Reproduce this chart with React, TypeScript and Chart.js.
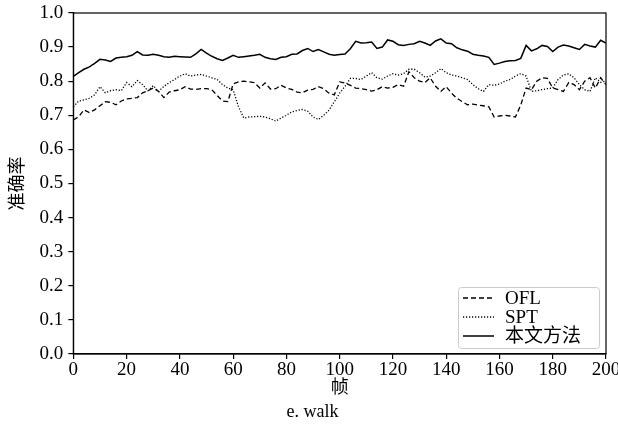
import React, { useEffect, useRef } from "react";
import { Chart, registerables } from "chart.js";

Chart.register(...registerables);

const frames = [
  0, 2, 4, 6, 8, 10, 12, 14, 16, 18, 20, 22, 24, 26, 28, 30, 32, 34, 36, 38, 40,
  42, 44, 46, 48, 50, 52, 54, 56, 58, 60, 62, 64, 66, 68, 70, 72, 74, 76, 78, 80,
  82, 84, 86, 88, 90, 92, 94, 96, 98, 100, 102, 104, 106, 108, 110, 112, 114, 116, 118, 120,
  122, 124, 126, 128, 130, 132, 134, 136, 138, 140, 142, 144, 146, 148, 150, 152, 154, 156, 158, 160,
  162, 164, 166, 168, 170, 172, 174, 176, 178, 180, 182, 184, 186, 188, 190, 192, 194, 196, 198, 200,
];

const oursValues = [
  0.814, 0.825, 0.835, 0.842, 0.852, 0.864, 0.862, 0.858, 0.868, 0.87, 0.872,
  0.876, 0.887, 0.877, 0.876, 0.879, 0.876, 0.872, 0.87, 0.873, 0.872,
  0.871, 0.87, 0.88, 0.893, 0.882, 0.873, 0.866, 0.861, 0.868, 0.876,
  0.87, 0.872, 0.874, 0.876, 0.879, 0.87, 0.866, 0.864, 0.87, 0.872,
  0.879, 0.88, 0.89, 0.896, 0.887, 0.893, 0.886, 0.879, 0.876, 0.878,
  0.88, 0.895, 0.917, 0.912, 0.913, 0.915, 0.896, 0.9, 0.921, 0.917,
  0.907, 0.905, 0.908, 0.91, 0.917, 0.912, 0.905, 0.918, 0.924, 0.912,
  0.91, 0.898, 0.892, 0.888, 0.879, 0.876, 0.874, 0.87, 0.849, 0.853,
  0.858, 0.86, 0.861, 0.867, 0.905, 0.889, 0.895, 0.905, 0.902, 0.887,
  0.9, 0.906, 0.903, 0.898, 0.893, 0.908, 0.903, 0.9, 0.92, 0.912,
];

const sptValues = [
  0.725, 0.742, 0.745, 0.75, 0.76, 0.784, 0.766, 0.772, 0.775, 0.772, 0.796,
  0.784, 0.802, 0.79, 0.772, 0.787, 0.77, 0.785, 0.796, 0.805, 0.815,
  0.822, 0.815, 0.818, 0.82, 0.815, 0.81, 0.805, 0.79, 0.78, 0.775,
  0.725, 0.692, 0.695, 0.696, 0.697, 0.695, 0.69, 0.683, 0.692, 0.7,
  0.71, 0.714, 0.717, 0.712, 0.695, 0.688, 0.7, 0.715, 0.74, 0.765,
  0.785, 0.808, 0.808, 0.805, 0.815, 0.825, 0.81, 0.806, 0.815, 0.822,
  0.818, 0.822, 0.835, 0.835, 0.825, 0.812, 0.815, 0.825, 0.837, 0.825,
  0.818, 0.815, 0.81, 0.805, 0.79, 0.778, 0.77, 0.79, 0.788, 0.792,
  0.8, 0.805, 0.815, 0.822, 0.815, 0.77, 0.772, 0.775, 0.778, 0.78,
  0.805, 0.818, 0.822, 0.81, 0.79, 0.775, 0.77, 0.81, 0.797, 0.8,
];

const oflValues = [
  0.686, 0.696, 0.716, 0.708, 0.716, 0.728, 0.74, 0.738, 0.731, 0.742, 0.748,
  0.75, 0.752, 0.766, 0.772, 0.78, 0.77, 0.752, 0.768, 0.772, 0.775,
  0.784, 0.777, 0.776, 0.778, 0.778, 0.775, 0.758, 0.742, 0.74, 0.792,
  0.798, 0.8, 0.798, 0.796, 0.78, 0.795, 0.777, 0.778, 0.788, 0.78,
  0.776, 0.768, 0.766, 0.774, 0.776, 0.784, 0.778, 0.765, 0.76, 0.798,
  0.795, 0.788, 0.78, 0.778, 0.775, 0.771, 0.775, 0.784, 0.78, 0.782,
  0.79, 0.785, 0.828, 0.81, 0.8, 0.796, 0.81, 0.785, 0.77, 0.784,
  0.765, 0.75, 0.74, 0.731, 0.733, 0.73, 0.728, 0.725, 0.695, 0.698,
  0.7, 0.698, 0.695, 0.73, 0.78, 0.775, 0.8, 0.81, 0.808, 0.78,
  0.775, 0.77, 0.796, 0.79, 0.775, 0.8, 0.81, 0.78, 0.81, 0.79,
];

const seriesNames = ["OFL", "SPT", "本文方法"];
const yTicks = [0, 0.1, 0.2, 0.3, 0.4, 0.5, 0.6, 0.7, 0.8, 0.9, 1.0];
const xTicks = [0, 20, 40, 60, 80, 100, 120, 140, 160, 180, 200];

const FONT = "'Liberation Serif', 'Times New Roman', 'Noto Sans CJK SC', serif";

const pts = (vals: number[]) => vals.map((v, i) => ({ x: frames[i], y: v }));

const frameBox = {
  id: "frameBox",
  afterDatasetsDraw(chart: any) {
    const { ctx, chartArea } = chart;
    ctx.save();
    ctx.strokeStyle = "#000";
    ctx.lineWidth = 1.2;
    ctx.strokeRect(chartArea.left, chartArea.top, chartArea.right - chartArea.left, chartArea.bottom - chartArea.top);
    ctx.restore();
  },
};

const customLegend = {
  id: "customLegend",
  afterDraw(chart: any) {
    const { ctx, chartArea } = chart;
    const boxW = 141;
    const boxH = 61;
    const x0 = chartArea.right - 7 - boxW;
    const y0 = chartArea.bottom - 6 - boxH;
    ctx.save();
    ctx.fillStyle = "rgba(255,255,255,0.85)";
    ctx.strokeStyle = "#cccccc";
    ctx.lineWidth = 1;
    ctx.beginPath();
    if (ctx.roundRect) ctx.roundRect(x0 + 0.5, y0 + 0.5, boxW, boxH, 3);
    else ctx.rect(x0 + 0.5, y0 + 0.5, boxW, boxH);
    ctx.fill();
    ctx.stroke();
    const dashes = [[5, 3], [1.2, 1.8], []];
    const widths = [1.3, 1.3, 1.5];
    ctx.font = `19px ${FONT}`;
    ctx.textBaseline = "middle";
    ctx.fillStyle = "#000";
    seriesNames.forEach((name, i) => {
      const cy = y0 + 11 + i * 19;
      ctx.beginPath();
      ctx.setLineDash(dashes[i]);
      ctx.strokeStyle = "#000";
      ctx.lineWidth = widths[i];
      ctx.moveTo(x0 + 5, cy);
      ctx.lineTo(x0 + 36, cy);
      ctx.stroke();
      ctx.setLineDash([]);
      ctx.fillText(name, x0 + 47, cy + 1);
    });
    ctx.restore();
  },
};

export default function App() {
  const ref = useRef<HTMLCanvasElement>(null);
  useEffect(() => {
    document.body.style.margin = "0";
    if (!ref.current) return;
    const chart = new Chart(ref.current, {
      type: "line",
      data: {
        datasets: [
          {
            label: seriesNames[0],
            data: pts(oflValues),
            borderColor: "#000",
            borderWidth: 1.3,
            borderDash: [5, 3],
            pointRadius: 0,
            fill: false,
            tension: 0,
          },
          {
            label: seriesNames[1],
            data: pts(sptValues),
            borderColor: "#000",
            borderWidth: 1.3,
            borderDash: [1.2, 1.8],
            pointRadius: 0,
            fill: false,
            tension: 0,
          },
          {
            label: seriesNames[2],
            data: pts(oursValues),
            borderColor: "#000",
            borderWidth: 1.5,
            pointRadius: 0,
            fill: false,
            tension: 0,
          },
        ],
      },
      options: {
        animation: false,
        responsive: false,
        layout: { padding: { top: 0, right: 0, left: 7, bottom: 0 } },
        plugins: {
          legend: { display: false },
          tooltip: { enabled: false },
          title: {
            display: true,
            text: "e. walk",
            position: "bottom",
            color: "#000",
            font: { family: FONT, size: 18, weight: "normal" },
            padding: { top: 2, bottom: 3 },
          },
        },
        scales: {
          x: {
            type: "linear",
            min: 0,
            max: 200,
            afterBuildTicks: (axis: any) => {
              axis.ticks = xTicks.map((v) => ({ value: v }));
            },
            afterFit: (scale: any) => {
              scale.paddingRight = 12;
            },
            grid: { display: true, drawOnChartArea: false, drawTicks: true, tickLength: 5, color: "#000", lineWidth: 1.2 },
            border: { display: true, color: "#000", width: 1.2 },
            ticks: { color: "#000", font: { family: FONT, size: 19 }, padding: 0, maxRotation: 0, autoSkip: false },
            title: { display: true, text: "帧", color: "#000", font: { family: FONT, size: 18 }, padding: { top: -4, bottom: 0 } },
          },
          y: {
            type: "linear",
            min: 0,
            max: 1,
            afterBuildTicks: (axis: any) => {
              axis.ticks = yTicks.map((v) => ({ value: v }));
            },
            afterFit: (scale: any) => {
              scale.paddingTop = 13;
            },
            grid: { display: true, drawOnChartArea: false, drawTicks: true, tickLength: 5, color: "#000", lineWidth: 1.2 },
            border: { display: true, color: "#000", width: 1.2 },
            ticks: {
              color: "#000",
              font: { family: FONT, size: 19 },
              padding: 5,
              autoSkip: false,
              callback: (v: any) => Number(v).toFixed(1),
            },
            title: { display: true, text: "准确率", color: "#000", font: { family: FONT, size: 18 }, padding: { top: 0, bottom: 6 } },
          },
        },
      },
      plugins: [frameBox, customLegend],
    });
    return () => chart.destroy();
  }, []);
  return (
    <div style={{ width: 618, height: 426, background: "#fff" }}>
      <canvas ref={ref} width={618} height={426} style={{ display: "block" }} />
    </div>
  );
}
